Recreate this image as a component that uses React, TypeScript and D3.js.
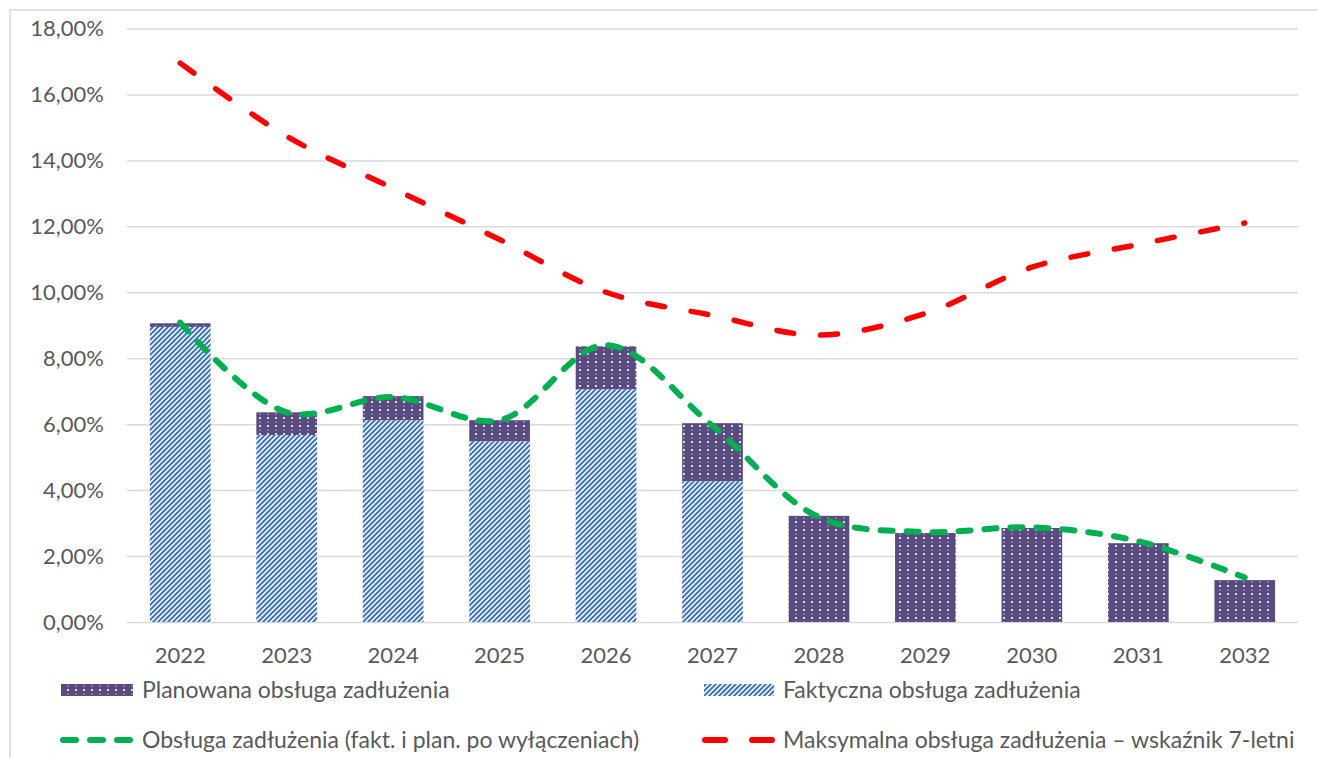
import React, { useRef, useEffect } from 'react';
import * as d3 from 'd3';

const years = ['2022', '2023', '2024', '2025', '2026', '2027', '2028', '2029', '2030', '2031', '2032'];
const faktyczna = [8.95, 5.67, 6.12, 5.48, 7.06, 4.27, 0, 0, 0, 0, 0];
const planowana = [0.11, 0.69, 0.73, 0.64, 1.30, 1.76, 3.22, 2.70, 2.85, 2.39, 1.27];
const obsluga = [9.08, 6.36, 6.82, 6.12, 8.40, 5.95, 3.18, 2.73, 2.87, 2.45, 1.35];
const maksymalna = [16.95, 14.73, 13.15, 11.6, 10.0, 9.3, 8.7, 9.36, 10.76, 11.45, 12.1];
const yTicks = [0, 2, 4, 6, 8, 10, 12, 14, 16, 18];

const W = 1318;
const H = 758;
const FONT = 'Lato, "Open Sans", sans-serif';
const TEXT = '#595959';
const PURPLE = '#594a80';
const BLUE = '#3f74c4';
const GREEN = '#00b050';
const RED = '#ff0000';

const App = () => {
  const svgRef = useRef<SVGSVGElement>(null);

  useEffect(() => {
    if (!svgRef.current) return;
    const svg = d3.select(svgRef.current);
    svg.selectAll('*').remove();

    const left = 127, right = 1298, top = 28.5, bottom = 622;

    // patterns
    const defs = svg.append('defs');
    const pp = defs.append('pattern')
      .attr('id', 'plan').attr('patternUnits', 'userSpaceOnUse')
      .attr('width', 8).attr('height', 8);
    pp.append('rect').attr('width', 8).attr('height', 8).attr('fill', PURPLE);
    pp.append('circle').attr('cx', 4).attr('cy', 2).attr('r', 1.1).attr('fill', '#ffffff');
    pp.append('circle').attr('cx', 4).attr('cy', 6).attr('r', 0.8).attr('fill', '#ffffff').attr('opacity', 0.55);

    const bp = defs.append('pattern')
      .attr('id', 'fakt').attr('patternUnits', 'userSpaceOnUse')
      .attr('width', 5).attr('height', 5);
    bp.append('rect').attr('width', 5).attr('height', 5).attr('fill', '#ffffff');
    bp.append('path')
      .attr('d', 'M-1,1 L1,-1 M0,5 L5,0 M4,6 L6,4')
      .attr('stroke', BLUE).attr('stroke-width', 2);

    // frame
    svg.append('rect')
      .attr('x', 10).attr('y', 10).attr('width', W + 20).attr('height', H + 20)
      .attr('fill', 'none').attr('stroke', '#d9d9d9').attr('stroke-width', 1.5);

    const x = d3.scaleBand<string>()
      .domain(years)
      .range([left, right])
      .paddingInner(0.43)
      .paddingOuter(0.215);

    const y = d3.scaleLinear().domain([0, 18]).range([bottom, top]);

    // grid
    svg.append('g')
      .attr('transform', `translate(${left},0)`)
      .call(d3.axisLeft(y).tickValues(yTicks).tickSize(-(right - left)).tickFormat(() => ''))
      .call(g => g.select('.domain').remove())
      .selectAll('line')
      .attr('stroke', '#d9d9d9')
      .attr('stroke-width', 1.5);

    // y labels
    svg.append('g')
      .selectAll('text')
      .data(yTicks)
      .join('text')
      .attr('x', 104)
      .attr('y', d => y(d))
      .attr('dy', '0.35em')
      .attr('text-anchor', 'end')
      .attr('font-family', FONT)
      .attr('font-size', 22)
      .attr('fill', TEXT)
      .text(d => d3.format('.2f')(d).replace('.', ',') + '%');

    // bars
    const bw = x.bandwidth();
    svg.append('g')
      .selectAll('rect')
      .data(years.filter((_, i) => faktyczna[i] > 0))
      .join('rect')
      .attr('x', d => x(d)!)
      .attr('width', bw)
      .attr('y', d => y(faktyczna[years.indexOf(d)]))
      .attr('height', d => y(0) - y(faktyczna[years.indexOf(d)]))
      .attr('fill', 'url(#fakt)');

    svg.append('g')
      .selectAll('rect')
      .data(years)
      .join('rect')
      .attr('x', d => x(d)!)
      .attr('width', bw)
      .attr('y', (d, i) => y(faktyczna[i] + planowana[i]))
      .attr('height', (d, i) => y(faktyczna[i]) - y(faktyczna[i] + planowana[i]))
      .attr('fill', 'url(#plan)');

    // x labels
    svg.append('g')
      .selectAll('text')
      .data(years)
      .join('text')
      .attr('x', d => x(d)! + bw / 2)
      .attr('y', 663)
      .attr('text-anchor', 'middle')
      .attr('font-family', FONT)
      .attr('font-size', 22)
      .attr('fill', TEXT)
      .text(d => d);

    const line = d3.line<number>()
      .x((_, i) => x(years[i])! + bw / 2)
      .y(d => y(d))
      .curve(d3.curveCatmullRom.alpha(0.5));

    svg.append('path')
      .datum(maksymalna)
      .attr('d', line)
      .attr('fill', 'none')
      .attr('stroke', RED)
      .attr('stroke-width', 5.5)
      .attr('stroke-linecap', 'round')
      .attr('stroke-dasharray', '17 27');

    svg.append('path')
      .datum(obsluga)
      .attr('d', line)
      .attr('fill', 'none')
      .attr('stroke', GREEN)
      .attr('stroke-width', 6)
      .attr('stroke-linecap', 'round')
      .attr('stroke-dasharray', '12 14');

    // legend
    const lg = svg.append('g').attr('font-family', FONT).attr('font-size', 23).attr('fill', TEXT);
    const row1 = 690, row2 = 740;
    lg.append('rect').attr('x', 61).attr('y', row1 - 6).attr('width', 72).attr('height', 12).attr('fill', 'url(#plan)');
    lg.append('text').attr('x', 142).attr('y', row1).attr('dy', '0.35em').text('Planowana obsługa zadłużenia');
    lg.append('rect').attr('x', 704).attr('y', row1 - 6).attr('width', 70).attr('height', 12).attr('fill', 'url(#fakt)');
    lg.append('text').attr('x', 783).attr('y', row1).attr('dy', '0.35em').text('Faktyczna obsługa zadłużenia');

    lg.append('line').attr('x1', 63).attr('x2', 133).attr('y1', row2).attr('y2', row2)
      .attr('stroke', GREEN).attr('stroke-width', 6).attr('stroke-linecap', 'round').attr('stroke-dasharray', '13 14');
    lg.append('text').attr('x', 142).attr('y', row2).attr('dy', '0.35em').text('Obsługa zadłużenia (fakt. i plan. po wyłączeniach)');
    lg.append('line').attr('x1', 705).attr('x2', 772).attr('y1', row2).attr('y2', row2)
      .attr('stroke', RED).attr('stroke-width', 6).attr('stroke-linecap', 'round').attr('stroke-dasharray', '20 27');
    lg.append('text').attr('x', 783).attr('y', row2).attr('dy', '0.35em').text('Maksymalna obsługa zadłużenia – wskaźnik 7-letni');
  }, []);

  return (
    <div style={{ position: 'absolute', left: 0, top: 0, width: W, height: H, background: '#ffffff', overflow: 'hidden' }}>
      <svg ref={svgRef} width={W} height={H} style={{ display: 'block' }} />
    </div>
  );
};

export default App;
